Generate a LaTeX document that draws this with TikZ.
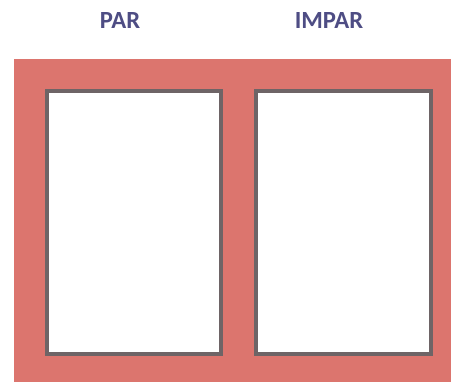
\documentclass[tikz,border=0pt]{standalone}
\usepackage{fontspec}
\setmainfont{Carlito}[BoldFont={Carlito Bold}]
\usepackage{xcolor}
\usepackage{tikz}
\usetikzlibrary{positioning}
\definecolor{pgRed}{HTML}{DC756E}
\definecolor{pgInk}{HTML}{4E4D84}
\definecolor{pgFrame}{HTML}{6E6466}
\tikzset{
  pg diagram/.style={x=0.75pt,y=-0.75pt, line join=miter},
  pg sheet/.style={fill=pgRed, draw=none},
  pg page/.style={draw=pgFrame, fill=white, line width=2.3pt},
  pg title/.style={font=\bfseries\fontsize{18.5}{22}\selectfont, text=pgInk}
}
\begin{document}
\begin{tikzpicture}[pg diagram]
\useasboundingbox (0,0) rectangle (451,382);
\fill[pg sheet] (14,59) rectangle (451,382);
\draw[pg page] (47,91) rectangle (221,354);
\draw[pg page] (256,91) rectangle (431,354);
\node[pg title] (par) at (120,21) {PAR};
\node[pg title] (impar) at (329,21) {IMPAR};
\end{tikzpicture}
\end{document}
